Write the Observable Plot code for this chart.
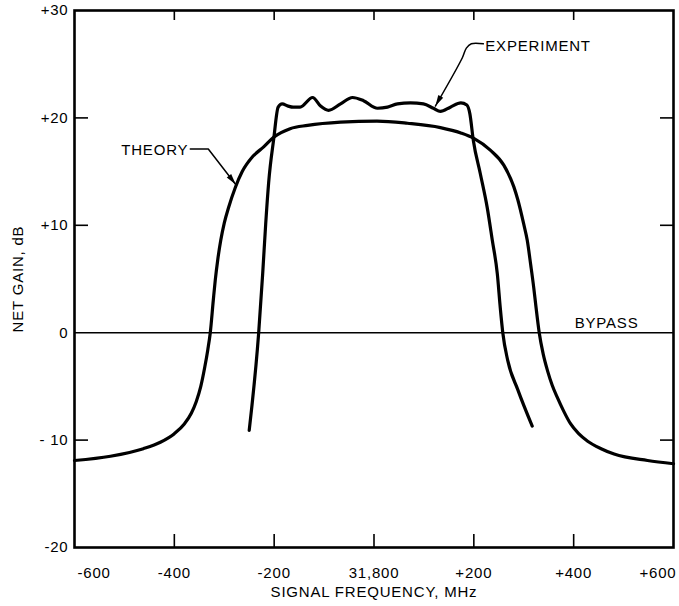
<!DOCTYPE html>
<html>
<head>
<meta charset="utf-8">
<script src="https://cdn.jsdelivr.net/npm/d3@7"></script>
<script src="https://cdn.jsdelivr.net/npm/@observablehq/plot@0.6"></script>
<style>
  html, body { margin: 0; padding: 0; background: #fff; }
  svg text { letter-spacing: 0.8px; }
</style>
</head>
<body>
<div id="chart"></div>
<script>
// ---- data ----
const xDomain = [-600, 600];
const yDomain = [-20, 30];

const xTickValues = [-600, -400, -200, 0, 200, 400, 600];
const xTickLabels = ["-600", "-400", "-200", "31,800", "+200", "+400", "+600"];
const yTickValues = [30, 20, 10, 0, -10, -20];
const yTickLabels = ["+30", "+20", "+10", "0", "- 10", "-20"];
const xInnerTicks = [-400, -200, 0, 200, 400];
const yInnerTicks = [20, 10, -10];

const theoryFreq = [-600, -528, -462, -428, -400, -380, -366, -356, -347, -339, -333, -328, -322, -318, -313, -307, -300, -291, -278, -264, -243, -221, -201, -168, -133, -67, 6, 67, 133, 174, 200, 233, 260, 280, 288, 300, 307, 314, 320, 324, 331, 339, 348, 357, 367, 380, 394, 410, 428, 455, 481, 548, 600];
const theoryGain = [-11.9, -11.5, -10.8, -10.2, -9.4, -8.5, -7.5, -6.4, -5.0, -3.2, -1.6, 0, 3.0, 4.9, 6.8, 8.6, 10.2, 11.7, 13.5, 15.0, 16.4, 17.3, 18.2, 19.0, 19.3, 19.6, 19.7, 19.5, 19.1, 18.6, 18.1, 17.0, 15.6, 13.6, 12.4, 10.1, 8.6, 6.3, 4.2, 2.6, 0, -2.0, -3.6, -4.9, -6.0, -7.3, -8.5, -9.4, -10.1, -10.8, -11.3, -11.9, -12.2];

const experimentFreq = [-250, -231, -223, -217, -211, -201, -192, -184, -172, -162, -148, -123, -107, -91, -67, -43, -21, 7, 27, 47, 73, 99, 119, 133, 153, 174, 186, 192, 199, 213, 227, 237, 247, 253, 258, 268, 288, 317];
const experimentGain = [-9.1, 0, 5.5, 10.1, 14.0, 18.0, 21.0, 21.3, 21.1, 21.0, 21.0, 21.9, 21.1, 20.7, 21.3, 21.9, 21.6, 20.9, 21.0, 21.3, 21.4, 21.3, 20.9, 20.6, 21.0, 21.4, 21.2, 20.4, 17.9, 14.8, 11.6, 8.6, 5.5, 2.3, 0, -2.6, -5.3, -8.7];

const bypassLevel = [0];

const theoryLeaderFreq = [-368, -332, -277];
const theoryLeaderGain = [17.1, 17.1, 13.8];
const experimentLeaderFreq = [219, 195, 185, 177, 123];
const experimentLeaderGain = [26.9, 26.9, 26.5, 25.6, 21.1];

const annotationLabels = ["THEORY", "EXPERIMENT", "BYPASS"];
const annotationFreq = [-372, 223, 466];
const annotationGain = [17.0, 26.7, 0];

const xTitle = "SIGNAL FREQUENCY, MHz";
const yTitle = "NET GAIN, dB";

// ---- build ----
const W = 679, H = 606;
const mL = 74, mR = 6, mT = 10, mB = 59;
const plotW = W - mL - mR, plotH = H - mT - mB;

const theory = theoryFreq.map((f, i) => ({f, g: theoryGain[i]}));
const experiment = experimentFreq.map((f, i) => ({f, g: experimentGain[i]}));
const xTicks = xTickValues.map((v, i) => ({v, label: xTickLabels[i]}));
const yTicks = yTickValues.map((v, i) => ({v, label: yTickLabels[i]}));
const theoryLeader = theoryLeaderFreq.map((f, i) => ({f, g: theoryLeaderGain[i]}));
const experimentLeader = experimentLeaderFreq.map((f, i) => ({f, g: experimentLeaderGain[i]}));
const annotations = annotationLabels.map((t, i) => ({t, f: annotationFreq[i], g: annotationGain[i]}));

const xs = Plot.scale({x: {domain: xDomain, range: [mL, W - mR]}});
const ys = Plot.scale({y: {domain: yDomain, range: [H - mB, mT]}});
function headAngle(leader) {
  const a = leader[leader.length - 2], b = leader[leader.length - 1];
  const dx = xs.apply(b.f) - xs.apply(a.f);
  const dy = ys.apply(b.g) - ys.apply(a.g);
  return Math.atan2(dx, -dy) * 180 / Math.PI;
}
const heads = [
  {...theoryLeader[theoryLeader.length - 1], a: headAngle(theoryLeader)},
  {...experimentLeader[experimentLeader.length - 1], a: headAngle(experimentLeader)}
];
const arrowSymbol = {
  draw(ctx) {
    ctx.moveTo(0, 0);
    ctx.lineTo(-2.8, 11);
    ctx.lineTo(2.8, 11);
    ctx.closePath();
  }
};

const font = "'Liberation Sans', Arial, Helvetica, sans-serif";
const fs = 15;

const chart = Plot.plot({
  width: W,
  height: H,
  marginLeft: mL, marginRight: mR, marginTop: mT, marginBottom: mB,
  x: {domain: xDomain, axis: null},
  y: {domain: yDomain, axis: null},
  style: {fontFamily: font, fontSize: fs + "px", background: "white", color: "black"},
  marks: [
    Plot.ruleY(bypassLevel, {stroke: "black", strokeWidth: 1.6}),
    // inner tick marks
    Plot.tickX(xInnerTicks, {x: d => d, insetTop: plotH - 13, stroke: "black", strokeWidth: 1.6}),
    Plot.tickX(xInnerTicks, {x: d => d, insetBottom: plotH - 10, stroke: "black", strokeWidth: 1.6}),
    Plot.tickY(yInnerTicks, {y: d => d, insetRight: plotW - 14, stroke: "black", strokeWidth: 1.6}),
    Plot.tickY(yInnerTicks, {y: d => d, insetLeft: plotW - 13, stroke: "black", strokeWidth: 1.6}),
    // curves
    Plot.line(theory, {x: "f", y: "g", stroke: "black", strokeWidth: 3.2, curve: "monotone-x"}),
    Plot.line(experiment, {x: "f", y: "g", stroke: "black", strokeWidth: 3.2, curve: "monotone-x"}),
    // leaders
    Plot.line(theoryLeader, {x: "f", y: "g", stroke: "black", strokeWidth: 1.5, curve: "linear"}),
    Plot.line(experimentLeader, {x: "f", y: "g", stroke: "black", strokeWidth: 1.5, curve: "catmull-rom"}),
    Plot.dot(heads, {x: "f", y: "g", rotate: "a", symbol: arrowSymbol, fill: "black", stroke: "none", r: 5}),
    // annotation text
    Plot.text(annotations.filter(d => d.t === "THEORY"), {x: "f", y: "g", text: "t", textAnchor: "end", fontSize: fs, fill: "black"}),
    Plot.text(annotations.filter(d => d.t === "EXPERIMENT"), {x: "f", y: "g", text: "t", textAnchor: "start", fontSize: fs, fill: "black"}),
    Plot.text(annotations.filter(d => d.t === "BYPASS"), {x: "f", y: "g", text: "t", textAnchor: "middle", dy: -10, fontSize: fs, fill: "black"}),
    // tick labels
    Plot.text(xTicks.filter((d, i) => i > 0 && i < xTicks.length - 1), {x: "v", text: "label", frameAnchor: "bottom", dy: 30, textAnchor: "middle", fontSize: fs, fill: "black"}),
    Plot.text(xTicks.filter((d, i) => i === 0), {x: "v", text: "label", frameAnchor: "bottom", dy: 30, textAnchor: "start", dx: 3, fontSize: fs, fill: "black"}),
    Plot.text(xTicks.filter((d, i) => i === xTicks.length - 1), {x: "v", text: "label", frameAnchor: "bottom", dy: 30, textAnchor: "end", dx: 3, fontSize: fs, fill: "black"}),
    Plot.text(yTicks, {y: "v", text: "label", frameAnchor: "left", dx: -6, textAnchor: "end", fontSize: fs, fill: "black"}),
    // axis titles
    Plot.text([xTitle], {text: d => d, frameAnchor: "bottom", dy: 49, textAnchor: "middle", fontSize: fs, fill: "black"}),
    Plot.text([yTitle], {text: d => d, frameAnchor: "left", dx: -56, rotate: -90, textAnchor: "middle", fontSize: fs, fill: "black"}),
    Plot.frame({stroke: "black", strokeWidth: 2.6})
  ]
});
document.getElementById("chart").append(chart);
</script>
</body>
</html>
